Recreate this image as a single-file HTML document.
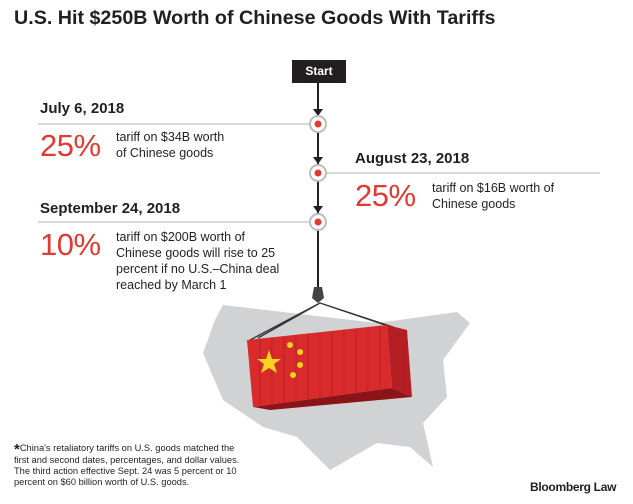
<!DOCTYPE html>
<html><head><style>
body{margin:0;width:633px;height:504px;background:#fff;overflow:hidden;font-family:"Liberation Sans",sans-serif;position:relative;color:#231f20}
.a{position:absolute;white-space:nowrap}
.d{font-weight:bold;font-size:15px}
.p{color:#e03a33;font-size:31px;letter-spacing:-0.5px}
.t{font-size:12.5px;line-height:16px}
</style></head><body>
<div class="a" style="left:14px;top:7px;font-size:19.7px;font-weight:bold">U.S. Hit $250B Worth of Chinese Goods With Tariffs</div>
<svg class="a" style="left:0;top:0" width="633" height="504">
<line x1="318" y1="82" x2="318" y2="290" stroke="#231f20" stroke-width="2"/>
<polygon points="313,109 323,109 318,116" fill="#231f20"/>
<polygon points="313,157 323,157 318,164" fill="#231f20"/>
<polygon points="313,206 323,206 318,213" fill="#231f20"/>
<line x1="38" y1="124" x2="309" y2="124" stroke="#ccc" stroke-width="1.5"/>
<line x1="327" y1="173" x2="600" y2="173" stroke="#ccc" stroke-width="1.5"/>
<line x1="38" y1="222" x2="309" y2="222" stroke="#ccc" stroke-width="1.5"/>
<g fill="#fff" stroke="#bbb" stroke-width="2">
<circle cx="318" cy="124" r="8"/><circle cx="318" cy="173" r="8"/><circle cx="318" cy="222" r="8"/></g>
<g fill="#e03a33"><circle cx="318" cy="124" r="3.5"/><circle cx="318" cy="173" r="3.5"/><circle cx="318" cy="222" r="3.5"/></g>
<polygon fill="#d1d2d4" points="223,305 377,323 457,312 470,323 443,360 447,397 423,423 433,467 410,447 377,443 330,470 297,437 263,427 223,400 203,353 215,320"/>
<path d="M314,287 L322,287 L324,298 L318,303 L312,298Z" fill="#444"/>
<g stroke="#333" stroke-width="1.3" fill="none"><path d="M320,303 L250,340 M320,303 L258,338 M320,303 L385,325 M320,303 L393,327"/></g>
<polygon fill="#d92b2b" points="247,340 387,325 392,388 253,407"/>
<polygon fill="#b51f24" points="387,325 407,330 412,397 392,388"/>
<polygon fill="#8a1418" points="253,407 392,388 412,397 270,410"/>
<g stroke="#b82226" stroke-width="1">
<path d="M260,339v66M272,338v66M284,337v66M296,335v66M308,334v66M320,333v65M332,331v65M344,330v65M356,329v65M368,327v64M380,326v63M395,327v63M401,329v64"/></g>
<g fill="#f7d21f">
<polygon points="269,350 272,359 281,359 274,364 277,373 269,368 261,373 264,364 257,359 266,359"/>
<circle cx="290" cy="345" r="3"/><circle cx="300" cy="352" r="3"/><circle cx="300" cy="365" r="3"/><circle cx="293" cy="375" r="3"/></g>
</svg>
<div class="a" style="left:292px;top:60px;width:54px;height:23px;background:#231f20;color:#fff;font-size:12px;font-weight:bold;text-align:center;line-height:23px">Start</div>
<div class="a d" style="left:40px;top:100px">July 6, 2018</div>
<div class="a p" style="left:40px;top:128px">25%</div>
<div class="a t" style="left:116px;top:129px">tariff on $34B worth<br>of Chinese goods</div>
<div class="a d" style="left:355px;top:150px">August 23, 2018</div>
<div class="a p" style="left:355px;top:178px">25%</div>
<div class="a t" style="left:432px;top:180px">tariff on $16B worth of<br>Chinese goods</div>
<div class="a d" style="left:40px;top:200px">September 24, 2018</div>
<div class="a p" style="left:40px;top:227px">10%</div>
<div class="a t" style="left:116px;top:229px">tariff on $200B worth of<br>Chinese goods will rise to 25<br>percent if no U.S.–China deal<br>reached by March 1</div>
<div class="a" style="left:14px;top:443px;font-size:9.3px;line-height:11px"><span style="font-size:15px;font-weight:bold;vertical-align:-3px">*</span>China's retaliatory tariffs on U.S. goods matched the<br>first and second dates, percentages, and dollar values.<br>The third action effective Sept. 24 was 5 percent or 10<br>percent on $60 billion worth of U.S. goods.</div>
<div class="a" style="left:530px;top:480px;font-size:12px;font-weight:bold;letter-spacing:-0.3px">Bloomberg Law</div>
</body></html>
